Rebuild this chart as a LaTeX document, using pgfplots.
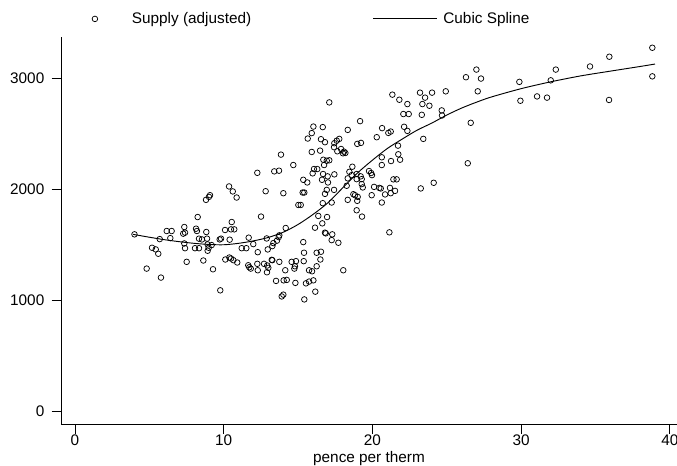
\documentclass[border=0pt]{standalone}
\usepackage{pgfplots}
\pgfplotsset{compat=1.18}
\usepackage{fontspec}
\setmainfont{Liberation Sans}

\begin{document}
\begin{tikzpicture}[font=\fontsize{11.5}{13.8}\selectfont]
\useasboundingbox (-45.75pt,-31.3pt) rectangle (462pt,318.2pt);
\begin{axis}[
    scale only axis,
    width=462pt,
    height=290.7pt,
    xmin=-0.94, xmax=40.48,
    ymin=-117, ymax=3379,
    axis lines=left,
    axis line style={-, line width=0.6pt},
    xtick={0,10,20,30,40},
    ytick={0,1000,2000,3000},
    tick align=outside,
    major tick length=7pt,
    tick style={line width=0.6pt, black},
    xticklabel style={yshift=3pt},
    yticklabel style={xshift=-2pt},
    /pgf/number format/assume math mode=true,
    /pgf/number format/1000 sep={},
    xlabel={pence per therm},
    xlabel style={at={(axis description cs:0.5,-0.0985)}, anchor=base},
    legend columns=2,
    legend style={at={(0.0495,1.0458)}, anchor=west, draw=none, fill=none,
        inner sep=0pt, column sep=0pt, nodes={inner sep=0pt, anchor=west}},
]
% scatter: supply (adjusted)
\addplot[only marks, mark=o, mark size=2.1pt, mark options={line width=0.55pt, black},
    legend image code/.code={
        \draw[line width=0.55pt] (0pt,0pt) circle (2.1pt);
        \path[draw=none] (-2.1pt,0pt) -- (27.75pt,0pt);}]
table {
x y
4.0 1596
10.36 2028
10.61 1983
10.87 1928
9.08 1949
9.01 1934
8.81 1907
8.25 1752
10.54 1707
6.17 1626
6.50 1626
7.35 1662
8.14 1647
8.20 1626
8.83 1617
7.28 1602
7.40 1611
10.09 1635
10.49 1641
10.71 1641
5.70 1553
6.41 1562
8.34 1557
8.54 1550
8.88 1557
9.73 1550
9.82 1557
10.40 1548
7.35 1514
8.92 1505
9.19 1499
7.40 1471
8.07 1471
8.34 1471
8.99 1475
8.92 1448
11.21 1471
5.18 1475
5.43 1460
5.60 1421
7.51 1348
8.63 1360
10.11 1369
10.38 1387
10.49 1378
10.65 1363
10.91 1342
4.82 1287
9.28 1281
5.78 1206
9.77 1091
15.02 1861
15.18 1861
16.66 1877
17.26 1883
12.51 1756
16.36 1762
16.95 1752
16.63 1695
16.14 1656
16.81 1611
16.86 1605
17.30 1596
17.26 1544
14.17 1653
11.68 1566
12.89 1559
13.74 1587
13.70 1571
13.58 1539
13.34 1517
11.99 1508
11.52 1471
13.27 1490
12.96 1460
15.35 1526
12.29 1435
15.40 1430
16.25 1430
16.54 1439
13.23 1366
13.27 1363
13.74 1348
14.57 1348
14.86 1354
15.38 1354
16.50 1369
11.65 1317
11.72 1299
11.82 1287
12.26 1330
12.29 1272
12.71 1330
12.93 1315
13.00 1294
12.91 1254
14.79 1308
14.75 1287
16.25 1308
14.14 1272
15.74 1272
15.94 1263
13.52 1176
14.03 1181
14.24 1185
14.82 1158
15.53 1154
15.74 1170
16.03 1181
16.16 1079
13.90 1036
14.01 1052
15.42 1009
17.10 2786
16.03 2568
16.66 2563
15.92 2509
15.65 2460
16.54 2454
16.81 2427
17.44 2418
17.42 2382
13.85 2315
15.92 2339
16.48 2351
16.70 2269
16.93 2260
17.10 2264
14.68 2221
16.75 2221
13.40 2164
13.72 2170
12.26 2151
16.07 2185
16.29 2185
15.98 2146
16.68 2140
16.99 2119
17.44 2137
15.35 2088
15.62 2064
16.61 2088
17.01 2064
12.82 1985
14.01 1967
15.31 1973
15.42 1973
16.93 1997
16.81 1961
21.34 2856
23.20 2874
23.54 2829
21.81 2810
22.35 2771
23.36 2771
22.08 2681
22.44 2681
23.32 2674
19.17 2617
18.34 2538
20.65 2554
21.07 2511
21.23 2523
22.13 2566
22.35 2529
20.29 2472
17.77 2457
17.60 2441
17.64 2345
17.89 2366
18.09 2342
18.18 2330
18.02 2327
18.98 2412
19.23 2421
21.72 2396
23.42 2457
20.63 2291
21.25 2257
21.74 2318
21.86 2269
20.63 2221
18.65 2206
18.45 2160
18.61 2130
18.94 2140
19.21 2119
19.77 2167
19.91 2149
19.97 2130
18.34 2101
18.94 2094
19.28 2094
21.41 2092
21.63 2092
18.27 2034
19.28 2049
19.35 2019
20.11 2024
20.46 2015
20.56 2010
21.18 2015
23.25 2010
17.42 1997
18.72 1958
18.83 1949
19.01 1934
19.95 1949
20.85 1956
21.23 1967
21.52 1988
18.34 1907
18.98 1898
20.63 1883
18.94 1813
19.30 1756
21.14 1614
17.71 1520
18.04 1272
38.82 3279
35.93 3198
34.63 3110
32.33 3082
26.99 3082
26.29 3013
27.30 3001
29.88 2971
31.99 2985
38.82 3021
24.01 2874
24.93 2886
27.08 2886
23.83 2756
29.95 2801
31.07 2840
31.74 2829
35.91 2808
24.66 2714
24.68 2668
26.61 2602
26.41 2237
24.12 2061
};
\addlegendentry{\makebox[180.75pt][l]{Supply (adjusted)}}

% fitted cubic spline
\addplot[black, line width=0.7pt, smooth,
    legend image code/.code={
        \draw[line width=0.7pt] (0pt,0pt) -- (48pt,0pt);
        \path[draw=none] (0pt,0pt) -- (52.5pt,0pt);}]
table {
x y
3.9 1596
5 1570
6 1548
7 1530
8 1515
9 1505
10 1502
11 1515
12 1537
13 1568
14 1615
15 1685
16 1775
17 1880
18 2015
19 2150
20 2265
21 2370
22 2455
23 2535
24 2600
25 2672
26 2735
27 2788
28 2835
30 2910
32 2972
34 3025
36 3068
38 3110
39 3132
};
\addlegendentry{Cubic Spline}
\end{axis}
\end{tikzpicture}
\end{document}
